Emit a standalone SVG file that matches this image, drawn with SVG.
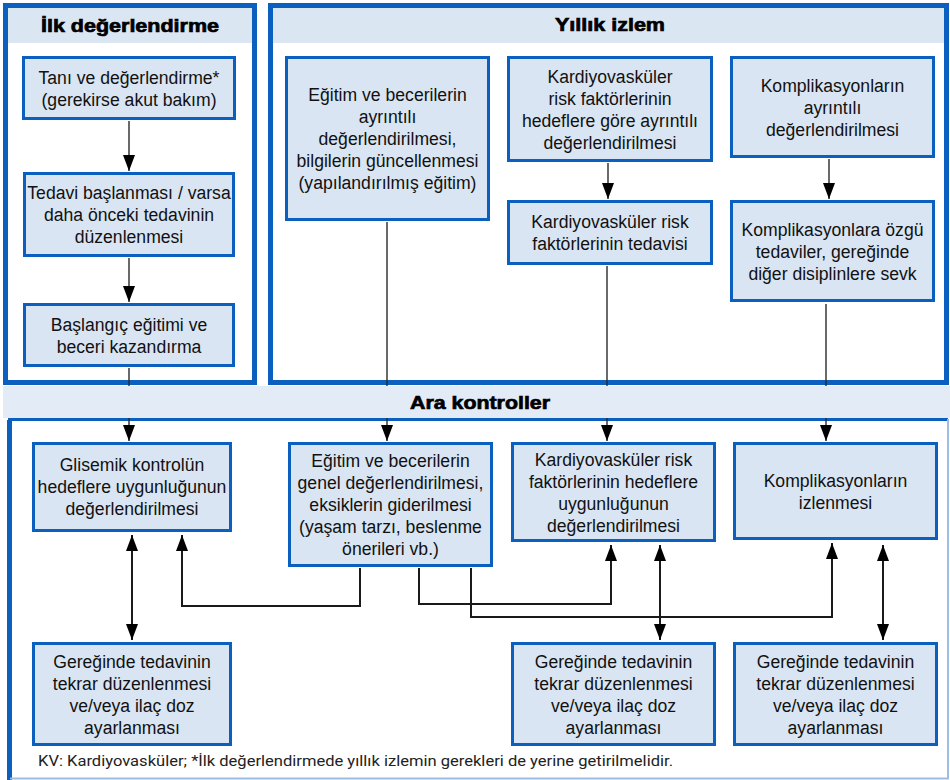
<svg xmlns="http://www.w3.org/2000/svg" width="950" height="780" viewBox="0 0 950 780">
<defs>
<style>
.panel{fill:#ffffff;stroke:#0b5fbe;stroke-width:5}
.hdr{fill:#dbe6f3}
.box rect{fill:#d9e5f3;stroke:#0b5fbe;stroke-width:3}
.box text{font-family:"Liberation Sans",Arial,sans-serif;font-size:17.6px;fill:#111;text-anchor:middle}
.title{font-family:"Liberation Sans",Arial,sans-serif;font-size:19px;font-weight:bold;fill:#000;stroke:#000;stroke-width:0.7;text-anchor:middle}
.ln{fill:none;stroke:#2a2a2a;stroke-width:1.4}
.lk{fill:none;stroke:#1a1a1a;stroke-width:2}
.foot{font-family:Roboto,"Liberation Sans",sans-serif;font-size:14px;fill:#222}
</style>
<marker id="ah" markerUnits="userSpaceOnUse" markerWidth="16" markerHeight="12" refX="16" refY="6" orient="auto-start-reverse" viewBox="0 0 16 12">
<path d="M0,0 L16,6 L0,12 z" fill="#000"/>
</marker>
</defs>
<rect x="0" y="0" width="950" height="780" fill="#ffffff"/>

<g id="panel-ilk">
<rect class="panel" x="5.5" y="5.5" width="249" height="377"/>
<rect class="hdr" x="8" y="8" width="244" height="35"/>
<text class="title" x="130" y="32" textLength="178" lengthAdjust="spacingAndGlyphs">İlk değerlendirme</text>
</g>
<g id="panel-yillik">
<rect class="panel" x="270.5" y="5.5" width="676" height="377"/>
<rect class="hdr" x="273" y="8" width="671" height="35"/>
<text class="title" x="610" y="31" textLength="110" lengthAdjust="spacingAndGlyphs">Yıllık izlem</text>
</g>
<g id="panel-ara">
<rect x="3" y="386" width="947" height="32" fill="#e3ebf6"/>
<path d="M9.5,780 V419.5 H948" fill="none" stroke="#0b5fbe" stroke-width="3"/>
<path d="M9.5,420 V780" fill="none" stroke="#0b5fbe" stroke-width="5"/>
<path d="M948,419 V778.5 H10" fill="none" stroke="#9fbde0" stroke-width="2"/>
<text class="title" x="480" y="409" textLength="140" lengthAdjust="spacingAndGlyphs">Ara kontroller</text>
</g>

<g id="connectors">
<path class="ln" d="M129,121 V171" marker-end="url(#ah)"/>
<path class="ln" d="M129,258 V302" marker-end="url(#ah)"/>
<path class="ln" d="M129,368 V386"/>
<path class="ln" d="M129,418 V441" marker-end="url(#ah)"/>
<path class="ln" d="M387,222 V386"/>
<path class="ln" d="M387,418 V441" marker-end="url(#ah)"/>
<path class="ln" d="M608,163 V199" marker-end="url(#ah)"/>
<path class="ln" d="M607,266 V386"/>
<path class="ln" d="M607,418 V441" marker-end="url(#ah)"/>
<path class="ln" d="M829,159 V199" marker-end="url(#ah)"/>
<path class="ln" d="M826,304 V386"/>
<path class="ln" d="M826,418 V441" marker-end="url(#ah)"/>
<path class="lk" d="M132,535 V640" marker-start="url(#ah)" marker-end="url(#ah)"/>
<path class="lk" d="M360,568 V606 H182 V535" marker-end="url(#ah)"/>
<path class="lk" d="M419,568 V604 H611 V545" marker-end="url(#ah)"/>
<path class="lk" d="M471,568 V617 H832 V543" marker-end="url(#ah)"/>
<path class="lk" d="M660,545 V640" marker-start="url(#ah)" marker-end="url(#ah)"/>
<path class="lk" d="M883,545 V640" marker-start="url(#ah)" marker-end="url(#ah)"/>
</g>

<g id="n-tani" class="box">
<rect x="23.5" y="57.5" width="211" height="61"/>
<text x="129" y="84">Tanı ve değerlendirme*</text>
<text x="129" y="106">(gerekirse akut bakım)</text>
</g>
<g id="n-tedavi" class="box">
<rect x="24.5" y="173.5" width="209" height="82"/>
<text x="129" y="199">Tedavi başlanması / varsa</text>
<text x="129" y="221">daha önceki tedavinin</text>
<text x="129" y="243">düzenlenmesi</text>
</g>
<g id="n-baslangic" class="box">
<rect x="24.5" y="304.5" width="209" height="61"/>
<text x="129" y="330.5">Başlangıç eğitimi ve</text>
<text x="129" y="352.5">beceri kazandırma</text>
</g>

<g id="n-egitim-ayrintili" class="box">
<rect x="286.5" y="57.5" width="202" height="162"/>
<text x="387.5" y="101">Eğitim ve becerilerin</text>
<text x="387.5" y="123">ayrıntılı</text>
<text x="387.5" y="145">değerlendirilmesi,</text>
<text x="387.5" y="167">bilgilerin güncellenmesi</text>
<text x="387.5" y="189">(yapılandırılmış eğitim)</text>
</g>
<g id="n-kv-ayrintili" class="box">
<rect x="508.5" y="57.5" width="203" height="103"/>
<text x="610" y="82.5">Kardiyovasküler</text>
<text x="610" y="104.5">risk faktörlerinin</text>
<text x="610" y="126.5">hedeflere göre ayrıntılı</text>
<text x="610" y="148.5">değerlendirilmesi</text>
</g>
<g id="n-kv-tedavi" class="box">
<rect x="508.5" y="201.5" width="203" height="62"/>
<text x="610" y="228">Kardiyovasküler risk</text>
<text x="610" y="250">faktörlerinin tedavisi</text>
</g>
<g id="n-komp-ayrintili" class="box">
<rect x="731.5" y="57.5" width="202" height="99"/>
<text x="832.5" y="92">Komplikasyonların</text>
<text x="832.5" y="114">ayrıntılı</text>
<text x="832.5" y="136">değerlendirilmesi</text>
</g>
<g id="n-komp-tedavi" class="box">
<rect x="731.5" y="201.5" width="202" height="99"/>
<text x="832.5" y="236">Komplikasyonlara özgü</text>
<text x="832.5" y="258">tedaviler, gereğinde</text>
<text x="832.5" y="280">diğer disiplinlere sevk</text>
</g>

<g id="n-glisemik" class="box">
<rect x="33.5" y="443.5" width="197" height="87"/>
<text x="132" y="471">Glisemik kontrolün</text>
<text x="132" y="493">hedeflere uygunluğunun</text>
<text x="132" y="515">değerlendirilmesi</text>
</g>
<g id="n-egitim-genel" class="box">
<rect x="289.5" y="443.5" width="202" height="122"/>
<text x="390.5" y="467">Eğitim ve becerilerin</text>
<text x="390.5" y="489">genel değerlendirilmesi,</text>
<text x="390.5" y="511">eksiklerin giderilmesi</text>
<text x="390.5" y="533">(yaşam tarzı, beslenme</text>
<text x="390.5" y="555">önerileri vb.)</text>
</g>
<g id="n-kv-uygunluk" class="box">
<rect x="512.5" y="443.5" width="202" height="97"/>
<text x="613.5" y="465.5">Kardiyovasküler risk</text>
<text x="613.5" y="487.5">faktörlerinin hedeflere</text>
<text x="613.5" y="509.5">uygunluğunun</text>
<text x="613.5" y="531.5">değerlendirilmesi</text>
</g>
<g id="n-komp-izlenmesi" class="box">
<rect x="734.5" y="443.5" width="202" height="95"/>
<text x="835.5" y="486.5">Komplikasyonların</text>
<text x="835.5" y="508.5">izlenmesi</text>
</g>

<g id="n-gerek-1" class="box">
<rect x="33.5" y="643.5" width="197" height="101"/>
<text x="132" y="667.5">Gereğinde tedavinin</text>
<text x="132" y="689.5">tekrar düzenlenmesi</text>
<text x="132" y="711.5">ve/veya ilaç doz</text>
<text x="132" y="733.5">ayarlanması</text>
</g>
<g id="n-gerek-2" class="box">
<rect x="512.5" y="643.5" width="202" height="101"/>
<text x="613.5" y="667.5">Gereğinde tedavinin</text>
<text x="613.5" y="689.5">tekrar düzenlenmesi</text>
<text x="613.5" y="711.5">ve/veya ilaç doz</text>
<text x="613.5" y="733.5">ayarlanması</text>
</g>
<g id="n-gerek-3" class="box">
<rect x="734.5" y="643.5" width="202" height="101"/>
<text x="835.5" y="667.5">Gereğinde tedavinin</text>
<text x="835.5" y="689.5">tekrar düzenlenmesi</text>
<text x="835.5" y="711.5">ve/veya ilaç doz</text>
<text x="835.5" y="733.5">ayarlanması</text>
</g>

<text class="foot" x="38" y="766" textLength="635" lengthAdjust="spacingAndGlyphs">KV: Kardiyovasküler; *İlk değerlendirmede yıllık izlemin gerekleri de yerine getirilmelidir.</text>
</svg>
